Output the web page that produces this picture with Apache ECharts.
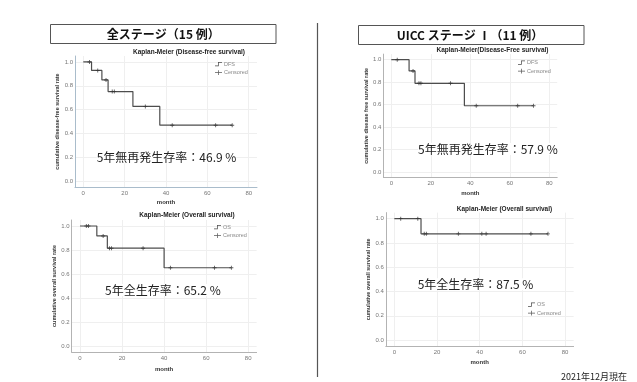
<!DOCTYPE html>
<html><head><meta charset="utf-8">
<script src="https://cdn.jsdelivr.net/npm/echarts@6/dist/echarts.min.js"></script>
<style>html,body{margin:0;padding:0;background:#fff}#c{width:637px;height:382px}</style>
</head><body><div id="c"></div>
<script>
// ---------- data ----------
const headerTexts = ['全ステージ（15 例）', 'UICC ステージ Ⅰ（11 例）'];
const panelTitles = ['Kaplan-Meier (Disease-free survival)', 'Kaplan-Meier(Disease-Free survival)', 'Kaplan-Meier (Overall survival)', 'Kaplan-Meier (Overall survival)'];
const yAxisNames = ['cumulative disease-free survival rate', 'cumulative disease free survival rate', 'cumulative overall survival rate', 'cumulative overall survival rate'];
const xAxisName = 'month';
const curveNames = ['DFS', 'DFS', 'OS', 'OS'];
const censorName = 'Censored';
const annotations = ['5年無再発生存率：46.9 %', '5年無再発生存率：57.9 %', '5年全生存率：65.2 %', '5年全生存率：87.5 %'];
const footnote = '2021年12月現在';
const xTickLabels = [0, 20, 40, 60, 80];
const yTickLabels = [0, 0.2, 0.4, 0.6, 0.8, 1.0];

const dfsAllTimes = [0, 4, 9, 12, 24, 37, 72];
const dfsAllSurv = [1.0, 0.929, 0.849, 0.751, 0.627, 0.469, 0.469];
const dfsAllCensor = [3, 7, 11, 14, 15, 30, 43, 64, 72];

const dfsStage1Times = [0, 9, 12, 37, 72];
const dfsStage1Surv = [1.0, 0.9, 0.79, 0.59, 0.59];
const dfsStage1Censor = [3, 11, 14, 15, 30, 43, 64, 72];

const osAllTimes = [0, 8, 13, 40, 72];
const osAllSurv = [1.0, 0.917, 0.815, 0.652, 0.652];
const osAllCensor = [3, 4, 11, 14, 15, 30, 43, 64, 72];

const osStage1Times = [0, 12.5, 72];
const osStage1Surv = [1.0, 0.875, 0.875];
const osStage1Censor = [3, 11, 14, 15, 30, 41, 43, 64, 72];

// ---------- layout ----------
const curves = [
  [dfsAllTimes, dfsAllSurv, dfsAllCensor],
  [dfsStage1Times, dfsStage1Surv, dfsStage1Censor],
  [osAllTimes, osAllSurv, osAllCensor],
  [osStage1Times, osStage1Surv, osStage1Censor]
];
const panels = [
  {grid:{left:75, top:56, width:182, height:131}, axisColor:'#a9bccb', title:[189,52.7], legend:[215,61], xGap:12.7, yGap:14, ann:[96.7,157.3]},
  {grid:{left:383.4, top:54.1, width:173.8, height:123.5}, axisColor:'#b3b3b3', title:[492.5,50.7], legend:[518,59.5], xGap:12.7, yGap:11.7, ann:[418,149]},
  {grid:{left:71.6, top:220, width:185, height:132}, axisColor:'#b3b3b3', title:[187,215.3], legend:[214,224], xGap:14.3, yGap:13.9, ann:[105,290]},
  {grid:{left:385.8, top:212.6, width:187.8, height:133.5}, axisColor:'#b3b3b3', title:[504.5,209], legend:[528,301.5], xGap:13.6, yGap:14, ann:[417.7,284.3]}
];
const SANS = 'Liberation Sans, Arial, sans-serif';
const CJK = 'Noto Sans CJK JP, sans-serif';
const clear = 'rgba(0,0,0,0)';
const gridCol = '#efefef';
const stepIcon = 'path://M0,8h6v-7h8v1.5h-6.5v7h-7.5z';
const crossIcon = 'path://M0,4h14v1.5h-14zM6.25,0h1.5v9.5h-1.5z';
const censorSymbol = 'path://M3.5,0h2v9h-2zM0,3.5h9v2h-9z';

function survAt(times, surv, t) {
  let s = surv[0];
  for (let i = 0; i < times.length; i++) if (times[i] <= t) s = surv[i];
  return s;
}

const option = {
  animation: false,
  backgroundColor: '#fff',
  grid: [], xAxis: [], yAxis: [], series: [], legend: [], graphic: []
};

panels.forEach((p, i) => {
  option.grid.push(Object.assign({containLabel:false}, p.grid));
  option.xAxis.push({
    gridIndex: i, type: 'value', min: -4, max: 84, interval: 4,
    axisLine: {show: true, onZero: false, lineStyle: {color: p.axisColor, width: 1}},
    axisTick: {show: false},
    axisLabel: {fontSize: 6, color: '#777', margin: 3, fontFamily: SANS,
      formatter: v => xTickLabels.find(l => Math.abs(l - v) < 1e-6) !== undefined ? String(Math.round(v)) : ''},
    splitLine: {show: true, lineStyle: {color: [clear, gridCol, clear, clear, clear], width: 1}},
    name: xAxisName, nameLocation: 'middle', nameGap: p.xGap,
    nameTextStyle: {fontSize: 6, fontWeight: 'bold', color: '#333', fontFamily: SANS}
  });
  option.yAxis.push({
    gridIndex: i, type: 'value', min: -0.05, max: 1.05, interval: 0.05,
    axisLine: {show: true, onZero: false, lineStyle: {color: p.axisColor, width: 1}},
    axisTick: {show: false},
    axisLabel: {fontSize: 6, color: '#777', margin: 2, fontFamily: SANS,
      formatter: v => { const l = yTickLabels.find(l => Math.abs(l - v) < 1e-6); return l !== undefined ? l.toFixed(1) : ''; }},
    splitLine: {show: true, lineStyle: {color: [clear, gridCol, clear, clear], width: 1}},
    name: yAxisNames[i], nameLocation: 'middle', nameGap: p.yGap,
    nameTextStyle: {fontSize: 5.5, fontWeight: 'bold', color: '#333', fontFamily: SANS}
  });
  const [times, surv, cens] = curves[i];
  option.series.push({
    type: 'line', name: curveNames[i], xAxisIndex: i, yAxisIndex: i, step: 'end',
    data: times.map((t, k) => [t, surv[k]]), symbol: 'none', showSymbol: false,
    lineStyle: {color: '#4d4d4d', width: 1.2}, itemStyle: {color: '#4d4d4d'}, z: 3
  });
  option.series.push({
    type: 'scatter', name: censorName, xAxisIndex: i, yAxisIndex: i,
    data: cens.map(t => [t, survAt(times, surv, t)]),
    symbol: censorSymbol, symbolSize: [4, 4], itemStyle: {color: '#333'}, z: 4
  });
  option.legend.push({
    left: p.legend[0], top: p.legend[1], orient: 'vertical', padding: 0, itemGap: 2.5,
    itemWidth: 7, itemHeight: 5, itemStyle: {borderWidth: 0},
    textStyle: {fontSize: 5.5, color: '#888', fontFamily: SANS, padding: [0, 0, 0, -3]},
    data: [{name: curveNames[i], icon: stepIcon}, {name: censorName, icon: crossIcon}],
    selectedMode: false
  });
  option.graphic.push({
    type: 'text', x: p.title[0], y: p.title[1], silent: true, z: 100,
    style: {text: panelTitles[i], fill: '#222', fontSize: 6.5, fontWeight: 'bold', fontFamily: SANS, align: 'center', verticalAlign: 'middle'}
  });
  option.graphic.push({
    type: 'text', x: p.ann[0], y: p.ann[1], silent: true, z: 100,
    style: {text: annotations[i], fill: '#222', fontSize: 12, fontFamily: CJK, align: 'left', verticalAlign: 'middle',
      backgroundColor: '#fff'}
  });
});

// headers, divider, footnote
option.graphic.push(
  {type: 'rect', z: 100, shape: {x: 50.5, y: 24.5, width: 225.5, height: 19}, style: {fill: '#fff', stroke: '#555', lineWidth: 1}, silent: true},
  {type: 'text', z: 101, x: 163.3, y: 34, silent: true, style: {text: headerTexts[0], fill: '#111', fontSize: 12, fontWeight: 'bold', fontFamily: CJK, align: 'center', verticalAlign: 'middle'}},
  {type: 'rect', z: 100, shape: {x: 358.5, y: 25.5, width: 225.5, height: 19}, style: {fill: '#fff', stroke: '#555', lineWidth: 1}, silent: true},
  {type: 'text', z: 101, x: 470, y: 35, silent: true, style: {text: headerTexts[1], fill: '#111', fontSize: 12, fontWeight: 'bold', fontFamily: CJK, align: 'center', verticalAlign: 'middle'}},
  {type: 'line', z: 100, shape: {x1: 317.5, y1: 23, x2: 317.5, y2: 377}, style: {stroke: '#555', lineWidth: 1.2}, silent: true},
  {type: 'text', z: 100, x: 627, y: 376.5, silent: true, style: {text: footnote, fill: '#222', fontSize: 9, fontFamily: CJK, align: 'right', verticalAlign: 'middle'}}
);

const chart = echarts.init(document.getElementById('c'), null, {renderer: 'canvas'});
chart.setOption(option);
</script>
</body></html>
